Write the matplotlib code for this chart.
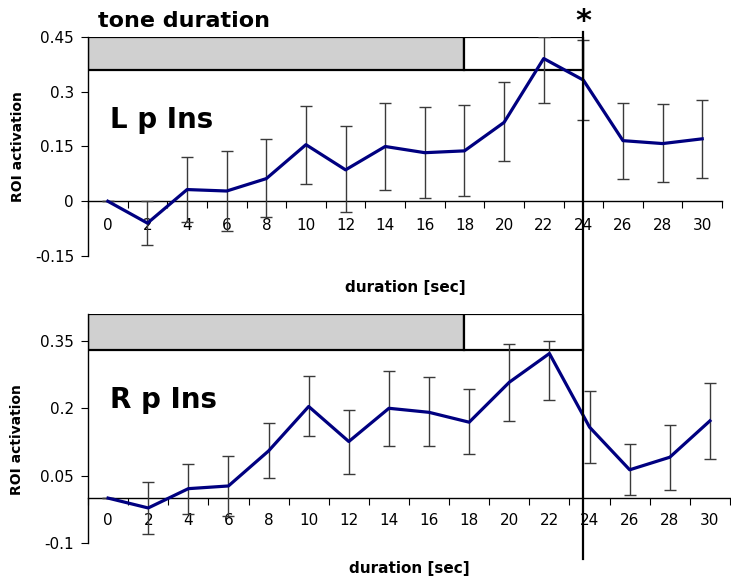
import matplotlib.pyplot as plt
from matplotlib.patches import Rectangle
from matplotlib.lines import Line2D
from matplotlib.transforms import blended_transform_factory
import numpy as np

plt.rcParams['font.family'] = ['DejaVu Sans']

# durata in secondi (categorie)
durations = [0, 2, 4, 6, 8, 10, 12, 14, 16, 18, 20, 22, 24, 26, 28, 30]

# L p Ins
l_vals = [0, -0.06, 0.032, 0.028, 0.062, 0.155, 0.086, 0.15, 0.133, 0.138,
          0.216, 0.391, 0.332, 0.166, 0.158, 0.171]
l_err_lo = [0, 0.06, 0.09, 0.11, 0.105, 0.108, 0.115, 0.12, 0.125, 0.125,
            0.106, 0.122, 0.11, 0.105, 0.106, 0.108]
l_err_hi = [0, 0.06, 0.09, 0.11, 0.109, 0.106, 0.12, 0.12, 0.125, 0.125,
            0.11, 0.06, 0.11, 0.104, 0.108, 0.106]

# R p Ins
r_vals = [0, -0.022, 0.021, 0.027, 0.105, 0.204, 0.126, 0.2, 0.191, 0.169,
          0.258, 0.322, 0.158, 0.063, 0.091, 0.172]
r_err_lo = [0, 0.057, 0.056, 0.067, 0.061, 0.066, 0.072, 0.085, 0.076, 0.071,
            0.086, 0.103, 0.08, 0.056, 0.073, 0.084]
r_err_hi = [0, 0.057, 0.055, 0.067, 0.062, 0.067, 0.071, 0.083, 0.078, 0.075,
            0.085, 0.027, 0.08, 0.057, 0.071, 0.084]

l_yticks = [-0.15, 0, 0.15, 0.3, 0.45]
l_yticklabels = ["-0.15", "0", "0.15", "0.3", "0.45"]
r_yticks = [-0.1, 0.05, 0.2, 0.35]
r_yticklabels = ["-0.1", "0.05", "0.2", "0.35"]

# fine del tono e fine del periodo (sec)
tone_end = 18
period_end = 24

fig = plt.figure(figsize=(7.31, 5.79), dpi=100)
ax_l = fig.add_axes([0.1204, 0.5579, 0.8673, 0.3782])
ax_r = fig.add_axes([0.1204, 0.0622, 0.8782, 0.3955])


def style_panel(ax, vals, lo, hi, yticks, ylabels, ylim, name, name_y, xlab_y, ylab_y, pad):
    ax.errorbar(durations, vals, yerr=[lo, hi], fmt='none', ecolor='#3a3a3a',
                elinewidth=1, capsize=4, capthick=1, zorder=3)
    ax.plot(durations, vals, color='#000080', lw=2.3, zorder=4)
    ax.set_xlim(-1, 31)
    ax.set_ylim(*ylim)
    for s in ['top', 'right']:
        ax.spines[s].set_visible(False)
    ax.spines['bottom'].set_position(('data', 0))
    ax.spines['bottom'].set_linewidth(1)
    ax.spines['left'].set_linewidth(1)
    ax.set_yticks(yticks)
    ax.set_yticklabels(ylabels)
    ax.set_xticks(np.arange(-1, 32, 2))
    ax.set_xticklabels([])
    ax.set_xticks(durations, minor=True)
    ax.set_xticklabels([str(d) for d in durations], minor=True)
    ax.tick_params(axis='y', direction='out', length=5, labelsize=11, pad=5)
    ax.tick_params(axis='x', which='major', direction='out', length=5)
    ax.tick_params(axis='x', which='minor', length=0, labelsize=11, pad=pad)
    ax.text(0.034, name_y, name, transform=ax.transAxes, fontsize=20,
            fontweight='bold', va='baseline', ha='left')
    ax.text(0.5, xlab_y, "duration [sec]", transform=ax.transAxes, fontsize=11,
            fontweight='bold', ha='center', va='center')
    ax.text(-0.11, ylab_y, "ROI activation", transform=ax.transAxes, fontsize=10,
            fontweight='bold', rotation=90, ha='center', va='center')


style_panel(ax_l, l_vals, l_err_lo, l_err_hi, l_yticks, l_yticklabels, (-0.15, 0.45),
            "L p Ins", 0.584, -0.143, 0.5, 12)
style_panel(ax_r, r_vals, r_err_lo, r_err_hi, r_yticks, r_yticklabels, (-0.1, 0.41),
            "R p Ins", 0.59, -0.11, 0.45, 10.5)

# barre della durata del tono (x in coordinate del pannello superiore)
for ax, y0, y1 in [(ax_l, 0.36, 0.45), (ax_r, 0.33, 0.41)]:
    tr = blended_transform_factory(ax_l.transData, ax.transData)
    ax.add_patch(Rectangle((-1, y0), tone_end + 1, y1 - y0, transform=tr,
                           facecolor='#d0d0d0', edgecolor='black', lw=1.6, zorder=2))
    ax.add_patch(Rectangle((tone_end, y0), period_end - tone_end, y1 - y0, transform=tr,
                           facecolor='white', edgecolor='black', lw=1.6, zorder=2))

# linea verticale a 24 s
trv = blended_transform_factory(ax_l.transData, fig.transFigure)
fig.add_artist(Line2D([period_end, period_end], [0.945, 0.035], transform=trv,
                      color='black', lw=1.6))
fig.text(period_end, 1 - 30 / 579, "*", transform=trv, fontsize=22, fontweight='bold',
         ha='center', va='baseline')
fig.text(98 / 731, 0.953, "tone duration", fontsize=16, fontweight='bold',
         ha='left', va='baseline')

fig.savefig("out.png", dpi=100)
